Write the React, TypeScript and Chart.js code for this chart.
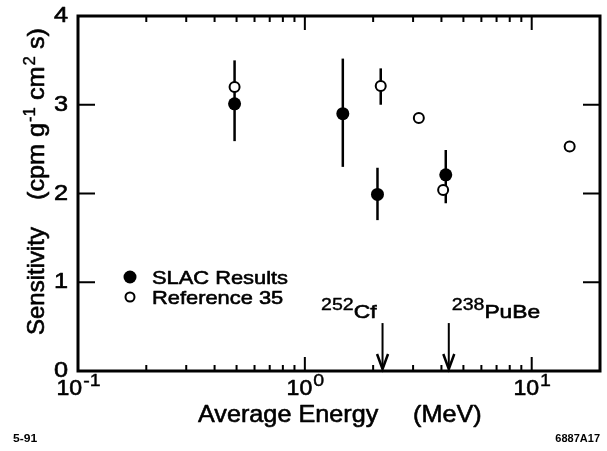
import React, { useEffect, useRef } from "react";
import { Chart, registerables } from "chart.js";

Chart.register(...registerables);

// ---- data ----
const slacEnergy = [0.49, 1.47, 2.09, 4.18];
const slacSens = [3.01, 2.9, 1.99, 2.21];
const slacLow = [2.59, 2.3, 1.7, 1.89];
const slacHigh = [3.5, 3.52, 2.29, 2.49];

const refEnergy = [0.49, 2.16, 3.18, 4.07, 14.7];
const refSens = [3.2, 3.21, 2.85, 2.04, 2.53];
const refLow: (number | null)[] = [null, 3.0, null, null, null];
const refHigh: (number | null)[] = [null, 3.41, null, null, null];

const sourceEnergy = [2.2, 4.31];
const sourceMass = ["252", "238"];
const sourceName = ["Cf", "PuBe"];
const sourceSide = ["left", "right"];
const arrowTopValue = 0.54;

const yTicks = [0, 1, 2, 3, 4];
const yTickLabels = ["0", "1", "2", "3", "4"];
const xMajorTicks = [0.1, 1, 10];
const xTickExponents = ["-1", "0", "1"];
const xMinorTicks = [0.2, 0.3, 0.4, 0.5, 0.6, 0.7, 0.8, 0.9, 2, 3, 4, 5, 6, 7, 8, 9];

const legendLabels = ["SLAC Results", "Reference 35"];
const FONT = '"Liberation Sans", Arial, Helvetica, sans-serif';

function txt(
  ctx: CanvasRenderingContext2D,
  s: string,
  x: number,
  y: number,
  size: number,
  align: "left" | "right" | "center" = "left",
  baseline: CanvasTextBaseline = "alphabetic",
  sx = 1.1,
  bold = false,
  weightStroke = 0.6
): number {
  ctx.save();
  ctx.font = `${bold ? "bold " : ""}${size}px ${FONT}`;
  ctx.textBaseline = baseline;
  ctx.textAlign = "left";
  const w = ctx.measureText(s).width * sx;
  let x0 = x;
  if (align === "right") x0 = x - w;
  else if (align === "center") x0 = x - w / 2;
  ctx.translate(x0, y);
  ctx.scale(sx, 1);
  ctx.fillStyle = "#000";
  ctx.fillText(s, 0, 0);
  if (weightStroke > 0) {
    ctx.strokeStyle = "#000";
    ctx.lineWidth = weightStroke;
    ctx.lineJoin = "round";
    ctx.strokeText(s, 0, 0);
  }
  ctx.restore();
  return w;
}

function measure(ctx: CanvasRenderingContext2D, s: string, size: number, sx = 1.1) {
  ctx.save();
  ctx.font = `${size}px ${FONT}`;
  const w = ctx.measureText(s).width * sx;
  ctx.restore();
  return w;
}

const decorPlugin = {
  id: "decor",
  beforeDatasetsDraw(chart: any) {
    const ctx: CanvasRenderingContext2D = chart.ctx;
    const xs = chart.scales.x;
    const ys = chart.scales.y;
    ctx.save();
    ctx.strokeStyle = "#000";
    ctx.lineWidth = 2.5;
    ctx.lineCap = "butt";
    const bar = (xv: number, lo: number, hi: number) => {
      const px = xs.getPixelForValue(xv);
      ctx.beginPath();
      ctx.moveTo(px, ys.getPixelForValue(lo));
      ctx.lineTo(px, ys.getPixelForValue(hi));
      ctx.stroke();
    };
    slacEnergy.forEach((e, i) => bar(e, slacLow[i], slacHigh[i]));
    refEnergy.forEach((e, i) => {
      const lo = refLow[i];
      const hi = refHigh[i];
      if (lo !== null && hi !== null) bar(e, lo, hi);
    });
    ctx.restore();
  },
  afterDraw(chart: any) {
    const ctx: CanvasRenderingContext2D = chart.ctx;
    const xs = chart.scales.x;
    const ys = chart.scales.y;
    const { left, right, top, bottom } = chart.chartArea;
    ctx.save();
    ctx.strokeStyle = "#000";
    ctx.fillStyle = "#000";

    // frame
    ctx.lineWidth = 3;
    ctx.strokeRect(left, top, right - left, bottom - top);

    // ticks
    ctx.lineWidth = 2;
    yTicks.forEach((v) => {
      const py = ys.getPixelForValue(v);
      ctx.beginPath();
      ctx.moveTo(left, py);
      ctx.lineTo(left + 17, py);
      ctx.moveTo(right, py);
      ctx.lineTo(right - 17, py);
      ctx.stroke();
    });
    const xt = (v: number, len: number) => {
      const px = xs.getPixelForValue(v);
      ctx.beginPath();
      ctx.moveTo(px, bottom);
      ctx.lineTo(px, bottom - len);
      ctx.moveTo(px, top);
      ctx.lineTo(px, top + len);
      ctx.stroke();
    };
    xMajorTicks.forEach((v) => xt(v, 14));
    xMinorTicks.forEach((v) => xt(v, 6));

    // y tick labels
    yTicks.forEach((v, i) => {
      txt(ctx, yTickLabels[i], 68, ys.getPixelForValue(v), 22, "right", "middle", 1.15);
    });

    // x tick labels
    xMajorTicks.forEach((v, i) => {
      const px = xs.getPixelForValue(v);
      const wb = measure(ctx, "10", 22, 1.05);
      const ws = measure(ctx, xTickExponents[i], 17, 1.15);
      const x0 = px - (wb + ws) / 2;
      txt(ctx, "10", x0, 395, 22, "left", "alphabetic", 1.05);
      txt(ctx, xTickExponents[i], x0 + wb + 1, 386, 17, "left", "alphabetic", 1.15, false, 0.4);
    });

    // axis titles
    txt(ctx, "Average Energy", 198, 422, 24, "left", "alphabetic", 1.05);
    txt(ctx, "(MeV)", 413, 422, 24, "left", "alphabetic", 1.05);

    ctx.save();
    ctx.translate(44, 335);
    ctx.rotate(-Math.PI / 2);
    let cx = 0;
    txt(ctx, "Sensitivity", cx, 0, 24, "left", "alphabetic", 1.0);
    cx = 135;
    cx += txt(ctx, "(cpm g", cx, 0, 24, "left", "alphabetic", 1.05);
    cx += txt(ctx, "-1", cx + 1, -9, 16, "left", "alphabetic", 1.05, false, 0.4) + 1;
    cx += txt(ctx, " cm", cx, 0, 24, "left", "alphabetic", 1.05);
    cx += txt(ctx, "2", cx + 1, -9, 16, "left", "alphabetic", 1.05, false, 0.4) + 1;
    txt(ctx, " s)", cx, 0, 24, "left", "alphabetic", 1.05);
    ctx.restore();

    // legend
    ctx.beginPath();
    ctx.arc(130, 277, 6.5, 0, Math.PI * 2);
    ctx.fill();
    ctx.beginPath();
    ctx.lineWidth = 2;
    ctx.fillStyle = "#fff";
    ctx.arc(130, 297, 4.5, 0, Math.PI * 2);
    ctx.fill();
    ctx.stroke();
    ctx.fillStyle = "#000";
    txt(ctx, legendLabels[0], 152, 284, 19, "left", "alphabetic", 1.15);
    txt(ctx, legendLabels[1], 152, 304, 19, "left", "alphabetic", 1.15);

    // source arrows
    sourceEnergy.forEach((e, i) => {
      const px = xs.getPixelForValue(e);
      const pTop = ys.getPixelForValue(arrowTopValue);
      const pBot = ys.getPixelForValue(0);
      ctx.lineWidth = 2;
      ctx.beginPath();
      ctx.moveTo(px, pTop);
      ctx.lineTo(px, pBot - 4);
      ctx.stroke();
      ctx.lineWidth = 2.5;
      ctx.lineJoin = "miter";
      ctx.beginPath();
      ctx.moveTo(px - 5.5, pBot - 17);
      ctx.lineTo(px, pBot - 2);
      ctx.lineTo(px + 5.5, pBot - 17);
      ctx.stroke();

      const wm = measure(ctx, sourceMass[i], 17, 1.15);
      const wn = measure(ctx, sourceName[i], 19, 1.2);
      const x0 = sourceSide[i] === "left" ? px - 6 - wm - wn : px + 3;
      txt(ctx, sourceMass[i], x0, 310, 17, "left", "alphabetic", 1.15, false, 0.4);
      txt(ctx, sourceName[i], x0 + wm, 318, 19, "left", "alphabetic", 1.2);
    });

    // corner labels
    txt(ctx, "5-91", 13, 442, 11, "left", "alphabetic", 1.1, true, 0);
    txt(ctx, "6887A17", 600, 442, 10, "right", "alphabetic", 1.1, true, 0);

    ctx.restore();
  },
};

export default function App() {
  const ref = useRef<HTMLCanvasElement | null>(null);
  useEffect(() => {
    if (!ref.current) return;
    const chart = new Chart(ref.current, {
      type: "scatter",
      data: {
        datasets: [
          {
            label: legendLabels[0],
            data: slacEnergy.map((e, i) => ({ x: e, y: slacSens[i] })),
            pointRadius: 6.5,
            pointBackgroundColor: "#000",
            pointBorderColor: "#000",
            pointBorderWidth: 0,
          },
          {
            label: legendLabels[1],
            data: refEnergy.map((e, i) => ({ x: e, y: refSens[i] })),
            pointRadius: 5,
            pointBackgroundColor: "#fff",
            pointBorderColor: "#000",
            pointBorderWidth: 2,
          },
        ],
      },
      options: {
        animation: false,
        responsive: false,
        events: [],
        layout: { padding: { left: 78, top: 16, right: 6, bottom: 80 } },
        plugins: { legend: { display: false }, tooltip: { enabled: false } },
        scales: {
          x: { type: "logarithmic", min: 0.1, max: 20, display: false },
          y: { type: "linear", min: 0, max: 4, display: false },
        },
      },
      plugins: [decorPlugin],
    });
    return () => chart.destroy();
  }, []);
  return (
    <div style={{ position: "absolute", left: 0, top: 0, width: 607, height: 451, background: "#fff" }}>
      <canvas ref={ref} width={607} height={451} style={{ display: "block" }} />
    </div>
  );
}
